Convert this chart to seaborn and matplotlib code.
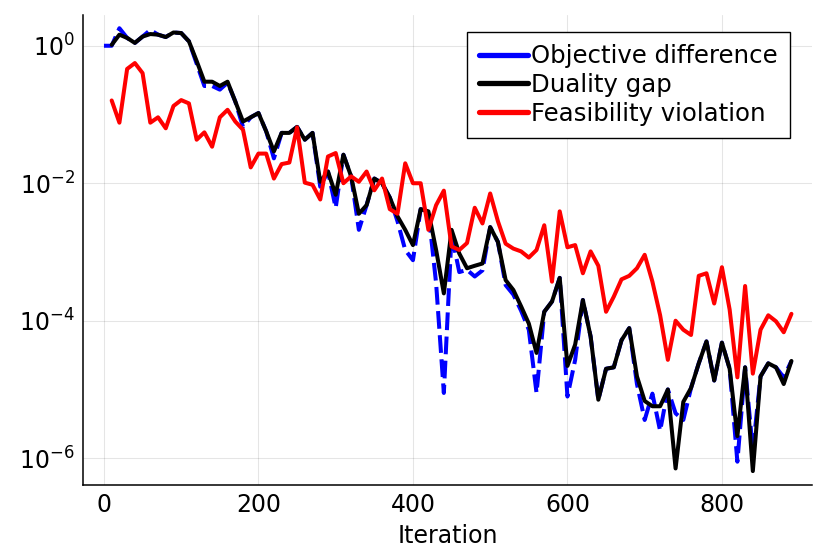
import numpy as np
import pandas as pd
import matplotlib
matplotlib.use("Agg")
import matplotlib.pyplot as plt
from matplotlib.lines import Line2D
from matplotlib.ticker import NullLocator
import seaborn as sns

# iterations (every 10)
iter_blue = list(range(0, 900, 10))
iter_other = list(range(10, 900, 10))

# Objective difference
objective_diff = [
    1.0, 1.0, 1.8, 1.30, 1.10, 1.36, 1.7, 1.45, 1.34, 1.56,
    1.53, 1.16, 0.55, 0.26, 0.26, 0.23, 0.29, 0.155, 0.066, 0.091,
    0.105, 0.057, 0.023, 0.054, 0.054, 0.066, 0.043, 0.054, 0.0089, 0.0148,
    0.0044, 0.026, 0.0126, 0.0021, 0.0048, 0.0117, 0.0100, 0.0062, 0.0028, 0.00107,
    0.00076, 0.0042, 0.0039, 0.00035, 8.9e-6, 0.0018, 0.00051, 0.00055, 0.00044, 0.00054,
    0.0023, 0.0014, 0.00033, 0.00024, 0.00014, 7.4e-5, 8.9e-6, 1.35e-4, 1.9e-4, 4.2e-4,
    7.9e-6, 2.7e-5, 2.0e-4, 5.9e-5, 7.1e-6, 2.0e-5, 2.1e-5, 5.2e-5, 7.8e-5, 1.2e-5,
    3.6e-6, 8.7e-6, 2.5e-6, 1.0e-5, 4.5e-6, 3.6e-6, 1.05e-5, 2.4e-5, 5.0e-5, 1.35e-5,
    4.8e-5, 2.0e-5, 8.9e-7, 2.1e-5, 1.3e-6, 1.55e-5, 2.4e-5, 2.1e-5, 1.5e-5, 2.6e-5,
]

# Duality gap
duality_gap = [
    1.03, 1.45, 1.30, 1.10, 1.36, 1.48, 1.45, 1.34, 1.56,
    1.53, 1.16, 0.60, 0.30, 0.30, 0.26, 0.30, 0.155, 0.079, 0.091,
    0.105, 0.057, 0.029, 0.054, 0.054, 0.066, 0.043, 0.054, 0.0105, 0.0148,
    0.0068, 0.026, 0.0126, 0.0036, 0.0048, 0.0117, 0.0100, 0.0062, 0.0033, 0.0021,
    0.00126, 0.0042, 0.0039, 0.00107, 0.00025, 0.0021, 0.00095, 0.00058, 0.00063, 0.00068,
    0.0023, 0.0014, 0.00039, 0.00028, 0.000162, 9.1e-5, 3.4e-5, 1.35e-4, 1.9e-4, 4.2e-4,
    2.2e-5, 4.5e-5, 2.0e-4, 5.9e-5, 7.1e-6, 2.0e-5, 2.1e-5, 5.2e-5, 7.8e-5, 1.55e-5,
    6.8e-6, 5.7e-6, 5.7e-6, 1.0e-5, 7.1e-7, 6.6e-6, 1.05e-5, 2.4e-5, 5.0e-5, 1.35e-5,
    4.8e-5, 2.0e-5, 2.1e-6, 2.1e-5, 6.5e-7, 1.55e-5, 2.4e-5, 2.1e-5, 1.2e-5, 2.6e-5,
]

# Feasibility violation
feasibility = [
    0.16, 0.076, 0.46, 0.56, 0.40, 0.076, 0.091, 0.063, 0.133,
    0.162, 0.145, 0.043, 0.055, 0.034, 0.091, 0.117, 0.079, 0.060, 0.017,
    0.027, 0.027, 0.0117, 0.019, 0.020, 0.065, 0.0102, 0.0095, 0.0058, 0.0245,
    0.0275, 0.0100, 0.0126, 0.0105, 0.0148, 0.0079, 0.0117, 0.0042, 0.0036, 0.0195,
    0.0100, 0.0100, 0.0021, 0.0048, 0.0078, 0.0012, 0.00107, 0.00135, 0.0044, 0.0026,
    0.0071, 0.0028, 0.00132, 0.00112, 0.00102, 0.00083, 0.00107, 0.00245, 0.00037, 0.0039,
    0.00117, 0.00126, 0.00049, 0.00102, 0.00063, 0.000135, 0.000224, 0.00040, 0.00045, 0.00058,
    0.00091, 0.00037, 0.00012, 2.7e-5, 1.0e-4, 7.4e-5, 6.2e-5, 0.00045, 0.00049, 0.000178,
    0.0006, 0.000145, 1.5e-5, 0.00032, 1.7e-5, 7.4e-5, 0.00012, 9.8e-5, 6.8e-5, 0.000126,
]

labels = ["Objective difference", "Duality gap", "Feasibility violation"]
colors = ["#0000ff", "#000000", "#ff0000"]
y_ticks = [1e-6, 1e-4, 1e-2, 1e0]
x_ticks = [0, 200, 400, 600, 800]

sns.set_style("white")
plt.rcParams['font.family'] = ['DejaVu Sans']
plt.rcParams['text.color'] = 'black'
plt.rcParams['axes.labelcolor'] = 'black'

fig = plt.figure(figsize=(8.3, 5.54), dpi=100)
ax = fig.add_axes([0.1004, 0.1245, 0.878, 0.8485])

lw = 2.9
sns.lineplot(x=iter_blue, y=objective_diff, ax=ax, color=colors[0], lw=lw,
             estimator=None, sort=False)
ax.lines[-1].set_dashes((4.4, 1.6))
sns.lineplot(x=iter_other, y=duality_gap, ax=ax, color=colors[1], lw=lw,
             estimator=None, sort=False)
sns.lineplot(x=iter_other, y=feasibility, ax=ax, color=colors[2], lw=lw,
             estimator=None, sort=False)

ax.set_yscale("log")
ax.set_xlim(-26.7, 916.7)
ax.set_ylim(10 ** -6.39, 10 ** 0.448)
ax.set_xticks(x_ticks)
ax.set_yticks(y_ticks)
ax.yaxis.set_minor_locator(NullLocator())

ax.grid(True, color="#000000", alpha=0.1, lw=0.8)
for s in ["top", "right"]:
    ax.spines[s].set_visible(False)
for s in ["left", "bottom"]:
    ax.spines[s].set_color("black")
    ax.spines[s].set_linewidth(1.1)
ax.tick_params(axis="both", direction="in", length=5, width=1, labelsize=17,
               color="black", labelcolor="black", pad=6)
ax.set_xlabel("Iteration", fontsize=17, labelpad=5, color="black")

handles = [Line2D([0], [0], color=c, lw=3.8, solid_capstyle="round") for c in colors]
leg = ax.legend(handles, labels, loc="upper right", bbox_to_anchor=(0.970, 0.964),
                borderaxespad=0, fontsize=17.6, frameon=True, fancybox=False,
                handlelength=2.0, handletextpad=0.15, labelspacing=0.2,
                borderpad=0.5, framealpha=1, labelcolor="black")
leg.get_frame().set_edgecolor("black")
leg.get_frame().set_linewidth(1.0)

fig.savefig("out.png", dpi=100)
